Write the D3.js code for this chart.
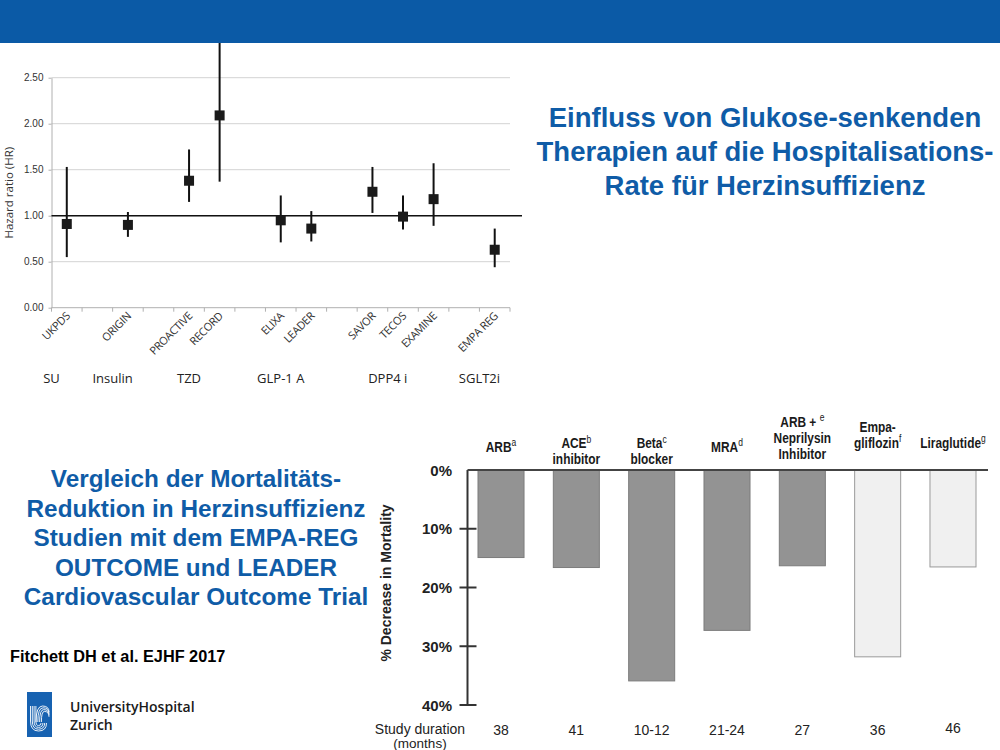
<!DOCTYPE html>
<html>
<head>
<meta charset="utf-8">
<script src="https://cdn.jsdelivr.net/npm/d3@7"></script>
<style>
  body { margin: 0; background: #fff; }
  svg { display: block; }
</style>
</head>
<body>
<svg id="slide" width="1000" height="750"></svg>
<script>
// top chart: hazard ratios for HF hospitalisation
const studies = ['UKPDS', 'ORIGIN', 'PROACTIVE', 'RECORD', 'ELIXA', 'LEADER', 'SAVOR', 'TECOS', 'EXAMINE', 'EMPA REG'];
const studyClass = ['SU', 'Insulin', 'TZD', 'TZD', 'GLP-1 A', 'GLP-1 A', 'DPP4 i', 'DPP4 i', 'DPP4 i', 'SGLT2i'];
const hr = [0.91, 0.90, 1.38, 2.09, 0.95, 0.86, 1.26, 0.99, 1.18, 0.63];
const hrLow = [0.55, 0.77, 1.15, 1.37, 0.71, 0.72, 1.03, 0.85, 0.89, 0.44];
const hrHigh = [1.53, 1.04, 1.72, 3.27, 1.22, 1.05, 1.53, 1.22, 1.57, 0.86];
const hrTicks = [0, 0.5, 1, 1.5, 2, 2.5];

// bottom chart: decrease in mortality in HF trials
const therapies = ['ARB', 'ACE inhibitor', 'Beta blocker', 'MRA', 'ARB + Neprilysin Inhibitor', 'Empagliflozin', 'Liraglutide'];
const therapyLabels = [
  [['ARB', 'a']],
  [['ACE', 'b'], ['inhibitor']],
  [['Beta', 'c'], ['blocker']],
  [['MRA', 'd']],
  [['ARB + ', 'e'], ['Neprilysin'], ['Inhibitor']],
  [['Empa-'], ['gliflozin', 'f']],
  [['Liraglutide', 'g']]
];
const mortalityDecrease = [14.9, 16.6, 35.9, 27.3, 16.3, 31.8, 16.5];
const studyMonths = ['38', '41', '10-12', '21-24', '27', '36', '46'];
const glucoseLowering = ['Empagliflozin', 'Liraglutide'];
const pctTicks = [0, 10, 20, 30, 40];

const titleTop = ['Einfluss von Glukose-senkenden', 'Therapien auf die Hospitalisations-', 'Rate für Herzinsuffizienz'];
const titleLeft = ['Vergleich der Mortalitäts-', 'Reduktion in Herzinsuffizienz', 'Studien mit dem EMPA-REG', 'OUTCOME und LEADER', 'Cardiovascular Outcome Trial'];

const blue = '#0f5ca7';
const svg = d3.select('#slide');

// ---------- top chart ----------
// one empty slot between therapy classes
const slots = [];
studies.forEach((s, i) => {
  const prev = i ? slots[i - 1] : -1;
  slots.push(prev + (i && studyClass[i] !== studyClass[i - 1] ? 2 : 1));
});

const xTop = d3.scaleBand().domain(d3.range(slots[slots.length - 1] + 1)).range([51.5, 510]);
const yTop = d3.scaleLinear().domain([0, 2.5]).range([307.7, 77.7]);
const bw = xTop.bandwidth();
const cx = (i) => xTop(slots[i]) + bw / 2;

const hrChart = svg.append('g').style('font-family', '"Open Sans", sans-serif');

hrChart.append('g')
  .selectAll('line')
  .data(hrTicks.filter((d) => d > 0))
  .join('line')
  .attr('x1', 51.5).attr('x2', 510)
  .attr('y1', (d) => yTop(d)).attr('y2', (d) => yTop(d))
  .attr('stroke', '#d3d3d3');

const yAxisTop = hrChart.append('g')
  .attr('transform', 'translate(51.5,0)')
  .call(d3.axisLeft(yTop).tickValues(hrTicks).tickFormat(d3.format('.2f')).tickSize(3).tickSizeOuter(0));
yAxisTop.select('.domain').attr('stroke', '#b0b0b0');
yAxisTop.selectAll('.tick line').attr('stroke', '#b0b0b0');
yAxisTop.selectAll('.tick text').attr('fill', '#333').style('font-size', '10px').attr('x', -8);

// x axis with ticks on slot boundaries
hrChart.append('line')
  .attr('x1', 51.5).attr('x2', 510)
  .attr('y1', yTop(0)).attr('y2', yTop(0))
  .attr('stroke', '#b0b0b0');
hrChart.append('g')
  .selectAll('line')
  .data(d3.range(xTop.domain().length + 1))
  .join('line')
  .attr('x1', (d) => 51.5 + d * xTop.step()).attr('x2', (d) => 51.5 + d * xTop.step())
  .attr('y1', yTop(0)).attr('y2', yTop(0) + 4)
  .attr('stroke', '#b0b0b0');

// reference line HR = 1
hrChart.append('line')
  .attr('x1', 51.5).attr('x2', 522)
  .attr('y1', yTop(1)).attr('y2', yTop(1))
  .attr('stroke', '#111').attr('stroke-width', 1.6);

// confidence intervals and point estimates
hrChart.append('g')
  .selectAll('line')
  .data(studies)
  .join('line')
  .attr('x1', (d, i) => cx(i)).attr('x2', (d, i) => cx(i))
  .attr('y1', (d, i) => yTop(hrLow[i])).attr('y2', (d, i) => yTop(hrHigh[i]))
  .attr('stroke', '#111').attr('stroke-width', 2);

hrChart.append('g')
  .selectAll('rect')
  .data(studies)
  .join('rect')
  .attr('x', (d, i) => cx(i) - 5).attr('y', (d, i) => yTop(hr[i]) - 5)
  .attr('width', 10).attr('height', 10)
  .attr('fill', '#1a1a1a');

hrChart.append('g')
  .selectAll('text')
  .data(studies)
  .join('text')
  .attr('transform', (d, i) => `translate(${cx(i) + 4},${yTop(0) + 9}) rotate(-45)`)
  .attr('text-anchor', 'end')
  .attr('fill', '#333')
  .style('font-size', '11px')
  .style('letter-spacing', '-0.3px')
  .text((d) => d);

// class labels
const classes = [...new Set(studyClass)];
hrChart.append('g')
  .selectAll('text')
  .data(classes)
  .join('text')
  .attr('x', (c) => {
    const idx = studyClass.map((s, i) => (s === c ? i : -1)).filter((i) => i >= 0);
    return (cx(idx[0]) + cx(idx[idx.length - 1])) / 2 - bw / 2;
  })
  .attr('y', 383)
  .attr('text-anchor', 'middle')
  .attr('fill', '#222')
  .style('font-size', '13px')
  .text((d) => d);

hrChart.append('text')
  .attr('transform', `translate(13,${(yTop(0) + yTop(2.5)) / 2}) rotate(-90)`)
  .attr('text-anchor', 'middle')
  .attr('fill', '#333')
  .style('font-size', '11.5px')
  .text('Hazard ratio (HR)');

// ---------- header band ----------
svg.append('rect').attr('x', 0).attr('y', 0).attr('width', 1000).attr('height', 43).attr('fill', '#0b5aa6');

// ---------- titles ----------
const bold = 'Liberation Sans, Arial, sans-serif';
svg.append('g')
  .selectAll('text')
  .data(titleTop)
  .join('text')
  .attr('x', 765).attr('y', (d, i) => 127 + i * 34)
  .attr('text-anchor', 'middle')
  .attr('fill', blue)
  .style('font', `bold 27.5px ${bold}`)
  .text((d) => d);

svg.append('g')
  .selectAll('text')
  .data(titleLeft)
  .join('text')
  .attr('x', 196).attr('y', (d, i) => 487 + i * 29.6)
  .attr('text-anchor', 'middle')
  .attr('fill', blue)
  .style('font', `bold 24.3px ${bold}`)
  .text((d) => d);

svg.append('text')
  .attr('x', 10).attr('y', 662)
  .attr('fill', '#000')
  .style('font', `bold 16.3px ${bold}`)
  .text('Fitchett DH et al. EJHF 2017');

// ---------- bottom chart ----------
const xBot = d3.scaleBand().domain(therapies).range([478, 976]).paddingInner(0.389);
const yBot = d3.scaleLinear().domain([0, 40]).range([470, 705]);
const bot = svg.append('g').style('font-family', bold);

bot.append('g')
  .selectAll('rect')
  .data(therapies)
  .join('rect')
  .attr('x', (d) => xBot(d)).attr('y', yBot(0))
  .attr('width', xBot.bandwidth())
  .attr('height', (d, i) => yBot(mortalityDecrease[i]) - yBot(0))
  .attr('fill', (d) => (glucoseLowering.includes(d) ? '#f0f0f0' : '#939393'))
  .attr('stroke', (d) => (glucoseLowering.includes(d) ? '#9a9a9a' : '#7c7c7c'))
  .attr('stroke-width', 1);

const axisX = 467.5;
bot.append('line')
  .attr('x1', axisX).attr('x2', axisX)
  .attr('y1', yBot(0)).attr('y2', yBot(40))
  .attr('stroke', '#333').attr('stroke-width', 2);
bot.append('line')
  .attr('x1', axisX).attr('x2', 988)
  .attr('y1', yBot(0)).attr('y2', yBot(0))
  .attr('stroke', '#444').attr('stroke-width', 2);

bot.append('g')
  .selectAll('line')
  .data(pctTicks.filter((d) => d > 0))
  .join('line')
  .attr('x1', axisX - 8).attr('x2', axisX + 9)
  .attr('y1', (d) => yBot(d)).attr('y2', (d) => yBot(d))
  .attr('stroke', '#333').attr('stroke-width', 2);

bot.append('g')
  .selectAll('text')
  .data(pctTicks)
  .join('text')
  .attr('x', 452).attr('y', (d) => yBot(d) + 5.5)
  .attr('text-anchor', 'end')
  .attr('fill', '#222')
  .style('font-size', '15px').style('font-weight', 'bold')
  .text((d) => d + '%');

bot.append('text')
  .attr('transform', `translate(391,583) rotate(-90)`)
  .attr('text-anchor', 'middle')
  .attr('fill', '#222')
  .style('font-size', '14px').style('font-weight', 'bold')
  .text('% Decrease in Mortality');

// therapy headers with footnote letters (narrow bold face)
therapies.forEach((t, i) => {
  const lines = therapyLabels[i];
  const n = lines.length;
  const highlighted = glucoseLowering.includes(t);
  const lastBase = highlighted ? 448 : (n === 2 ? 464.5 : n === 3 ? 459 : 452);
  const gap = 16;
  const label = bot.append('text')
    .attr('transform', `translate(${xBot(t) + xBot.bandwidth() / 2},0) scale(0.85,1)`)
    .attr('text-anchor', 'middle')
    .attr('fill', '#1a1a1a')
    .style('font-size', '14px').style('font-weight', 'bold');
  lines.forEach((ln, j) => {
    const row = label.append('tspan')
      .attr('x', 0)
      .attr('y', lastBase - (n - 1 - j) * gap);
    row.append('tspan').text(ln[0]);
    if (ln[1]) {
      row.append('tspan')
        .attr('dy', -5.5)
        .style('font-size', '10px').style('font-weight', 'normal')
        .text(ln[1]);
    }
  });
});

// study duration row
bot.append('g')
  .selectAll('text')
  .data(therapies)
  .join('text')
  .attr('x', (d) => xBot(d) + xBot.bandwidth() / 2)
  .attr('y', (d, i) => (i === therapies.length - 1 ? 733 : 735))
  .attr('text-anchor', 'middle')
  .attr('fill', '#222')
  .style('font-size', '14px')
  .text((d, i) => studyMonths[i]);

bot.append('text')
  .attr('x', 420).attr('y', 734)
  .attr('text-anchor', 'middle')
  .attr('fill', '#222')
  .style('font-size', '14px')
  .text('Study duration');
bot.append('text')
  .attr('x', 420).attr('y', 748)
  .attr('text-anchor', 'middle')
  .attr('fill', '#222')
  .style('font-size', '13.5px')
  .text('(months)');

// ---------- logo ----------
const logo = svg.append('g');
logo.append('rect').attr('x', 27).attr('y', 692).attr('width', 25).attr('height', 45).attr('fill', '#1762b1');
d3.range(4).forEach((k) => {
  logo.append('path')
    .attr('d', `M${30.5 + k * 1.8},706 V721 Q${30.5 + k * 1.8},${731 - k * 1.8} ${38.5},${731 - k * 1.8} Q${46.5 - k * 1.8},${731 - k * 1.8} ${46.5 - k * 1.8},723`)
    .attr('fill', 'none').attr('stroke', '#fff').attr('stroke-width', 0.9);
  logo.append('path')
    .attr('d', `M${36 + k * 1.8},722 Q${36 + k * 1.8},${706 + k * 1.8} ${42.5 + k * 0.6},${706 + k * 1.8} Q${49},${706 + k * 1.8} ${49},${712 + k * 1.6}`)
    .attr('fill', 'none').attr('stroke', '#fff').attr('stroke-width', 0.9);
});
logo.append('text')
  .attr('x', 70).attr('y', 712)
  .attr('fill', '#1a1a1a')
  .style('font', '600 14px "Open Sans", sans-serif')
  .text('UniversityHospital');
logo.append('text')
  .attr('x', 70).attr('y', 730)
  .attr('fill', '#1a1a1a')
  .style('font', '600 14px "Open Sans", sans-serif')
  .text('Zurich');
</script>
</body>
</html>
